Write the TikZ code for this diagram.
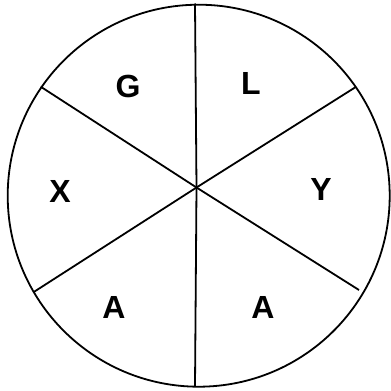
\documentclass[tikz,border=0pt]{standalone}
\usepackage{fontspec}
\setmainfont{Liberation Sans}
\begin{document}
\begin{tikzpicture}[x=1pt,y=-1pt,
  stroke/.style={line width=1.8pt,black},
  letter/.style={font=\fontsize{32}{32}\selectfont\bfseries,inner sep=0pt}]
\useasboundingbox (0,0) rectangle (391,391);
\draw[stroke] (198.7,195.7) circle (191);
\coordinate (c) at (196.5,187.5);
\coordinate (t) at (195,3.5);
\coordinate (b) at (195,386.5);
\coordinate (ul) at (40.7,86.7);
\coordinate (ur) at (355.3,87.3);
\coordinate (ll) at (33.3,292.3);
\coordinate (lr) at (359,290);
\draw[stroke] (t) -- (c) -- (b);
\draw[stroke] (ul) -- (c) -- (lr);
\draw[stroke] (ur) -- (c) -- (ll);
\node[letter] (G) at (128,86) {G};
\node[letter] (L) at (251,83) {L};
\node[letter] (X) at (60,191) {X};
\node[letter] (Y) at (321,189) {Y};
\node[letter] (A1) at (114,307) {A};
\node[letter] (A2) at (263,307) {A};
\end{tikzpicture}
\end{document}
